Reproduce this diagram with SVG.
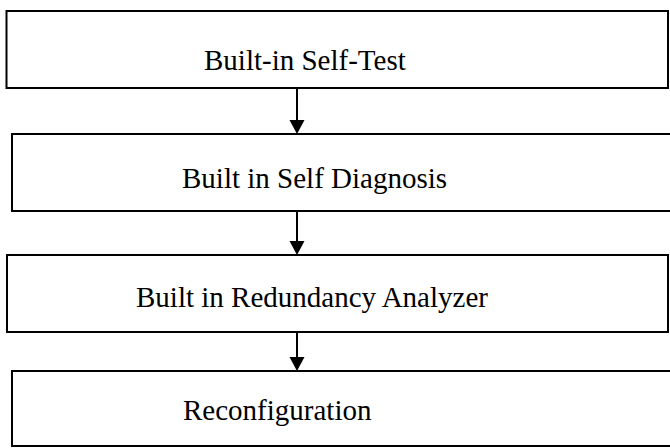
<svg xmlns="http://www.w3.org/2000/svg" width="670" height="448" viewBox="0 0 670 448">
  <style>
    .box { fill: #ffffff; stroke: #000000; stroke-width: 2; }
    .label { font-family: "Liberation Serif", "Times New Roman", serif; font-size: 29px; fill: #000000; }
    .flow { stroke: #000000; stroke-width: 2; fill: none; }
  </style>
  <defs>
    <marker id="head" viewBox="0 0 15 14" refX="7.5" refY="14" markerWidth="15" markerHeight="14" markerUnits="userSpaceOnUse" orient="auto-start-reverse">
      <path d="M0,0 L15,0 L7.5,14 Z" fill="#000000"/>
    </marker>
  </defs>

  <rect width="670" height="448" fill="#ffffff"/>

  <g id="node-bist">
    <rect class="box" x="6.5" y="11" width="661.5" height="77"/>
    <text class="label" x="204" y="70">Built-in Self-Test</text>
  </g>

  <g id="node-bisd">
    <rect class="box" x="12" y="134" width="670" height="77"/>
    <text class="label" x="182" y="188">Built in Self Diagnosis</text>
  </g>

  <g id="node-bira">
    <rect class="box" x="7" y="255" width="661" height="77"/>
    <text class="label" x="136" y="307">Built in Redundancy Analyzer</text>
  </g>

  <g id="node-reconfig">
    <rect class="box" x="12" y="371" width="670" height="75"/>
    <text class="label" x="183" y="420">Reconfiguration</text>
  </g>

  <g id="connectors">
    <line class="flow" x1="297" y1="88" x2="297" y2="120" />
    <path d="M289.5,120 L304.5,120 L297,134 Z" fill="#000000"/>
    <line class="flow" x1="297" y1="211" x2="297" y2="241" />
    <path d="M289.5,241 L304.5,241 L297,255 Z" fill="#000000"/>
    <line class="flow" x1="297" y1="332" x2="297" y2="357" />
    <path d="M289.5,357 L304.5,357 L297,371 Z" fill="#000000"/>
  </g>
</svg>
